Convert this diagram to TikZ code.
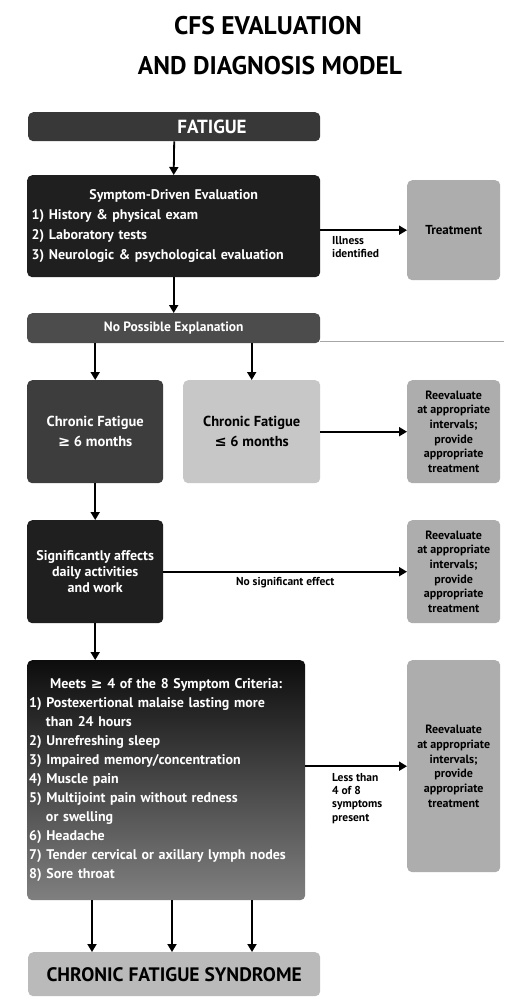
\documentclass[tikz,border=0pt]{standalone}
\usepackage{fontspec}
\setmainfont{PT Sans}
\newfontfamily\symfont{DejaVu Sans}
\newcommand{\gesym}{{\symfont\fontseries{b}\selectfont ≥}}
\newcommand{\lesym}{{\symfont\fontseries{b}\selectfont ≤}}
\usetikzlibrary{arrows.meta}
\begin{document}
\begin{tikzpicture}[x=1pt,y=-1pt,
  box/.style={rounded corners=5pt, inner sep=2pt, align=center, anchor=north west,
    font=\bfseries\fontsize{14.5}{20}\selectfont},
  darkbox/.style={box, fill=black!88, text=white},
  midbox/.style={box, fill=black!70, text=white},
  lightbox/.style={box, fill=black!22, text=black},
  sidebox/.style={box, fill=black!32, text=black, minimum width=93pt,
    font=\bfseries\fontsize{12}{14.7}\selectfont},
  arr/.style={line width=1.8pt, -{Triangle[length=8pt,width=9pt]}},
  lbl/.style={font=\bfseries\fontsize{11.5}{13.3}\selectfont, align=left, inner sep=0pt},
  ttl/.style={font=\bfseries\fontsize{25.5}{30}\selectfont, inner sep=0pt}
]
\useasboundingbox (0,0) rectangle (504,1006);
\fill[white] (0,0) rectangle (504,1006);

% title
\node[ttl] (t1) at (268,26) {CFS EVALUATION};
\node[ttl] (t2) at (270,66) {AND DIAGNOSIS MODEL};

% left column
\node[box, fill=black!78, minimum width=292pt, minimum height=29pt] (fatigue) at (28,112) {};
\node[text=white, font=\bfseries\fontsize{19}{20}\selectfont, inner sep=0pt] (fatiguetxt)
  at (212,127) {FATIGUE};
\node[darkbox, minimum width=293pt, minimum height=102pt, text width=284pt, align=left,
  font=\bfseries\fontsize{14}{20}\selectfont]
  (sde) at (27,175) {\makebox[\linewidth]{Symptom-Driven Evaluation}\\
  1) History \& physical exam\\
  2) Laboratory tests\\
  3) Neurologic \& psychological evaluation};
\node[midbox, minimum width=293pt, minimum height=30pt, font=\bfseries\fontsize{13.5}{16}\selectfont]
  (npe) at (27,313) {No Possible Explanation};
\draw[black!35, line width=0.6pt] (npe.south east) ++(0,-2) coordinate (fl) -- (fl -| 504,0);
\node[midbox, fill=black!76, minimum width=136pt, minimum height=103pt] (cfl) at (27,380)
  {Chronic Fatigue\\\gesym{} 6 months};
\node[lightbox, minimum width=137pt, minimum height=103pt] (cfs) at (183,380)
  {Chronic Fatigue\\\lesym{} 6 months};
\node[darkbox, minimum width=136pt, minimum height=103pt,
  font=\bfseries\fontsize{14}{16}\selectfont] (sig) at (27,520)
  {Significantly affects\\daily activities\\and work};
\node[box, top color=black!95, bottom color=black!50, text=white, minimum width=278pt,
  minimum height=240pt, text width=274pt, align=left, inner sep=2pt,
  font=\bfseries\fontsize{14}{19}\selectfont] (meets) at (27,660)
  {\makebox[\linewidth]{Meets \gesym{} 4 of the 8 Symptom Criteria:}\\
  1) Postexertional malaise lasting more\\
  \hspace*{1.2em}than 24 hours\\
  2) Unrefreshing sleep\\
  3) Impaired memory/concentration\\
  4) Muscle pain\\
  5) Multijoint pain without redness\\
  \hspace*{1.2em}or swelling\\
  6) Headache\\
  7) Tender cervical or axillary lymph nodes\\
  8) Sore throat};
\node[lightbox, fill=black!27, minimum width=292pt, minimum height=44pt,
  font=\bfseries\fontsize{19.5}{22}\selectfont] (cfsbox) at (28,952)
  {CHRONIC FATIGUE SYNDROME};

% right column
\node[sidebox, minimum height=100pt, font=\bfseries\fontsize{13}{15}\selectfont] (treat) at (407,180) {Treatment};
\node[sidebox, minimum height=103pt] (re1) at (407,380)
  {Reevaluate\\at appropriate\\intervals;\\provide\\appropriate\\treatment};
\node[sidebox, minimum height=103pt] (re2) at (407,520)
  {Reevaluate\\at appropriate\\intervals;\\provide\\appropriate\\treatment};
\node[sidebox, minimum height=212pt] (re3) at (407,660)
  {Reevaluate\\at appropriate\\intervals;\\provide\\appropriate\\treatment};

% vertical arrows
\draw[arr] (fatigue.south) -- (sde.north);
\draw[arr] (sde.south) -- (npe.north);
\draw[arr] (cfl.north |- npe.south) -- (cfl.north);
\draw[arr] (cfs.north |- npe.south) -- (cfs.north);
\draw[arr] (cfl.south) -- (sig.north);
\draw[arr] (sig.south) -- (sig.south |- meets.north);
\coordinate (m1) at (92,900);
\coordinate (m2) at (172,900);
\coordinate (m3) at (252,900);
\draw[arr] (m1) -- (m1 |- cfsbox.north);
\draw[arr] (m2) -- (m2 |- cfsbox.north);
\draw[arr] (m3) -- (m3 |- cfsbox.north);

% horizontal arrows
\draw[arr] (sde.east |- treat.west) -- (treat.west);
\draw[arr] (cfs.east) -- (re1.west);
\draw[arr] (sig.east) -- node[lbl, below=5pt] (nse) {No significant effect} (re2.west);
\draw[arr] (meets.east |- re3.west) -- (re3.west);

% labels
\node[lbl, anchor=north west] (ill) at (332,236) {Illness\\identified};
\node[lbl, anchor=north west] (less) at (332,773) {Less than\\4 of 8\\symptoms\\present};
\end{tikzpicture}
\end{document}
